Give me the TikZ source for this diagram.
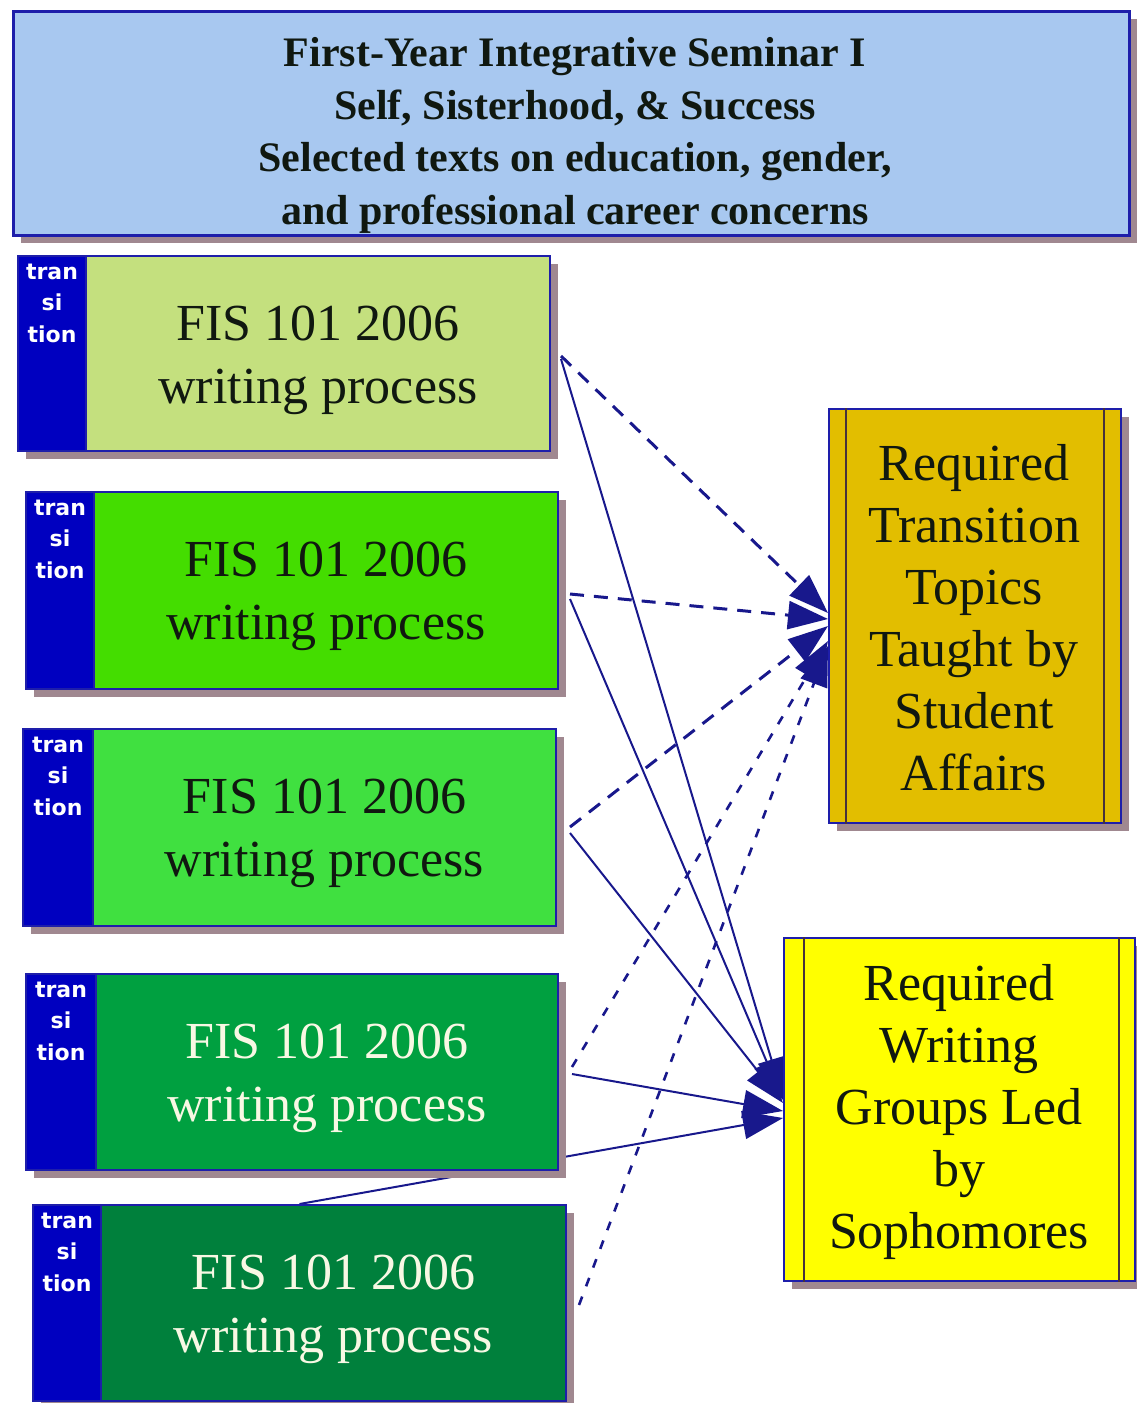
\documentclass[tikz,border=0pt]{standalone}
\usepackage{fontspec}
\setmainfont{Liberation Serif}
\newfontfamily\stripfont{DejaVu Sans}
\usetikzlibrary{arrows.meta,shadows,backgrounds,calc}

\definecolor{navy}{RGB}{24,24,140}
\definecolor{bordc}{RGB}{30,30,170}
\definecolor{shadc}{RGB}{160,136,144}
\definecolor{stripc}{RGB}{0,0,192}
\definecolor{hdc}{RGB}{168,200,240}
\definecolor{ca}{RGB}{196,224,126}
\definecolor{cb}{RGB}{68,221,0}
\definecolor{cc}{RGB}{64,224,64}
\definecolor{cd}{RGB}{0,160,64}
\definecolor{ce}{RGB}{0,128,60}
\definecolor{goldc}{RGB}{226,190,0}
\definecolor{yelc}{RGB}{255,255,0}
\definecolor{lightt}{RGB}{248,248,228}
\definecolor{darkt}{RGB}{16,24,16}
\definecolor{innerc}{RGB}{70,50,60}

\tikzset{
  shad/.style={drop shadow={shadow xshift=8pt,shadow yshift=-8pt,fill=shadc,opacity=1}},
  boxbase/.style={rectangle,draw=bordc,line width=2pt,inner sep=0pt,shad},
  innerline/.style={draw=innerc,line width=2pt},
  hdtext/.style={font=\bfseries\fontsize{42}{52.7}\selectfont,align=center,inner sep=0pt,text=darkt},
  fistext/.style={font=\fontsize{52}{63}\selectfont,align=center,inner sep=0pt},
  striptext/.style={font=\stripfont\bfseries\fontsize{22}{31.5}\selectfont,align=center,inner sep=0pt,text=white},
  rtext/.style={font=\fontsize{52}{62}\selectfont,align=center,inner sep=0pt,text=darkt},
  dcon/.style={draw=navy,line width=3pt,dash pattern=on 14pt off 10pt,-{Triangle[length=40pt,width=28pt]}},
  dcons/.style={draw=navy,line width=2.6pt,dash pattern=on 9pt off 11pt,-{Triangle[length=40pt,width=28pt]}},
  scon/.style={draw=navy,line width=2pt,-{Triangle[length=40pt,width=28pt]}},
}

\begin{document}
\begin{tikzpicture}[x=1pt,y=-1pt]
\useasboundingbox (0,0) rectangle (1136,1403);

% header
\node[boxbase,fill=hdc,anchor=north west,minimum width=1116pt,minimum height=224pt,line width=2.5pt] (hd) at (12,10) {};
\node[hdtext,anchor=north] (hdt) at (575,37) {First-Year Integrative Seminar I\\Self, Sisterhood, \& Success\\Selected texts on education, gender,\\and professional career concerns};

% left boxes
\foreach \n/\L/\S/\R/\T/\B/\col/\tc in {1/17/85/549/255/450/ca/darkt,2/25/93/557/491/688/cb/darkt,3/22/92/555/728/925/cc/darkt,4/25/95/557/973/1169/cd/lightt,5/32/100/565/1204/1400/ce/lightt}{
  \pgfmathsetmacro\ws{\S-\L}
  \pgfmathsetmacro\wm{\R-\S}
  \pgfmathsetmacro\hh{\B-\T}
  \node[boxbase,fill=stripc,anchor=north west,minimum width=\ws pt,minimum height=\hh pt] (s\n) at (\L,\T) {};
  \node[boxbase,fill=\col,anchor=north west,minimum width=\wm pt,minimum height=\hh pt] (m\n) at (\S,\T) {};
  \node[striptext,anchor=north] (r\n) at ($(s\n.north)+(0,8.5)$) {tran\\si\\tion};
  \node[fistext,text=\tc,anchor=north] (f\n) at ($(m\n.north)+(0,50.5)$) {FIS 101 2006\\writing process};
}

% right boxes
\node[boxbase,fill=goldc,anchor=north west,minimum width=292pt,minimum height=414pt] (tt) at (828,408) {};
\draw[innerline] ($(tt.north west)+(18,0)$) -- ($(tt.south west)+(18,0)$);
\draw[innerline] ($(tt.north east)+(-18,0)$) -- ($(tt.south east)+(-18,0)$);
\node[rtext,anchor=north] (ttt) at (974,444.5) {Required\\Transition\\Topics\\Taught by\\Student\\Affairs};

\node[boxbase,fill=yelc,anchor=north west,minimum width=351pt,minimum height=343pt] (ww) at (783,937) {};
\draw[innerline] ($(ww.north west)+(21,0)$) -- ($(ww.south west)+(21,0)$);
\draw[innerline] ($(ww.north east)+(-17,0)$) -- ($(ww.south east)+(-17,0)$);
\node[rtext,anchor=north] (wwt) at (959,964.5) {Required\\Writing\\Groups Led\\by\\Sophomores};

% connectors
\begin{scope}[on background layer]
  \draw[dcon] ($(m1.east)+(10,2.5)$) -- ($(tt.west)+(0,-3)$);
  \draw[dcon] ($(m2.east)+(11,3.5)$) -- ($(tt.west)+(0,3)$);
  \draw[dcon] ($(m3.east)+(13,-0.5)$) -- ($(tt.west)+(0,10)$);
  \draw[dcons] ($(m4.east)+(13,-5)$) -- ($(tt.west)+(0,25)$);
  \draw[dcons] ($(m5.east)+(12,2)$) -- ($(tt.west)+(0,30)$);

  \draw[scon] ($(m1.east)+(10,5.5)$) -- ($(ww.west)+(0,-11.5)$);
  \draw[scon] ($(m2.east)+(11,8.5)$) -- ($(ww.west)+(0,-9.5)$);
  \draw[scon] ($(m3.east)+(13,5.5)$) -- ($(ww.west)+(0,-6.5)$);
  \draw[scon] ($(m4.east)+(13,2)$) -- ($(ww.west)+(0,1.5)$);
  \draw[scon] ($(s5.north west)!0.5!(m5.north east)$) -- ($(ww.west)+(0,8.5)$);
\end{scope}
\end{tikzpicture}
\end{document}
